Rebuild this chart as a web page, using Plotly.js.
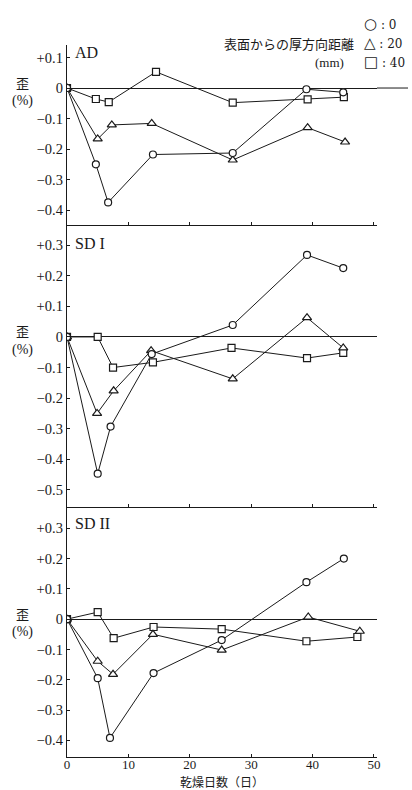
<!DOCTYPE html>
<html>
<head>
<meta charset="utf-8">
<script src="https://cdn.plot.ly/plotly-3.0.1.min.js"></script>
<style>html,body{margin:0;padding:0;background:#fff;}#chart{width:412px;height:790px;}</style>
</head>
<body>
<div id="chart"></div>
<script>
// ---- data (days, strain %) ----
const adX0 = [0, 4.7, 6.7, 14, 27, 39, 45];
const adY0 = [0, -0.25, -0.375, -0.218, -0.213, -0.004, -0.014];
const adX20 = [0, 5, 7.3, 13.8, 27, 39.2, 45.3];
const adY20 = [0, -0.167, -0.121, -0.116, -0.236, -0.13, -0.177];
const adX40 = [0, 4.7, 6.8, 14.5, 27, 39.2, 45.1];
const adY40 = [0, -0.036, -0.046, 0.053, -0.048, -0.037, -0.03];

const sd1X0 = [0, 5, 7.1, 13.8, 27, 39.1, 45];
const sd1Y0 = [0, -0.447, -0.293, -0.056, 0.039, 0.268, 0.225];
const sd1X20 = [0, 4.9, 7.6, 13.7, 27, 39.1, 45];
const sd1Y20 = [0, -0.25, -0.176, -0.045, -0.137, 0.063, -0.036];
const sd1X40 = [0, 5, 7.5, 14, 26.8, 39.1, 45];
const sd1Y40 = [0, 0, -0.1, -0.083, -0.036, -0.069, -0.052];

const sd2X0 = [0, 5, 7, 14.1, 25.2, 39, 45.1];
const sd2Y0 = [0, -0.195, -0.392, -0.178, -0.069, 0.122, 0.2];
const sd2X20 = [0, 5, 7.5, 14, 25.2, 39.3, 47.7];
const sd2Y20 = [0, -0.139, -0.182, -0.05, -0.102, 0.007, -0.04];
const sd2X40 = [0, 5, 7.6, 14.1, 25.2, 39, 47.3];
const sd2Y40 = [0, 0.023, -0.063, -0.026, -0.033, -0.073, -0.059];

const panelLabels = ['AD', 'SD I', 'SD II'];
const xTickVals = [0, 10, 20, 30, 40, 50];
const xTickText = ['0', '10', '20', '30', '40', '50'];
const y1TickVals = [0.1, 0, -0.1, -0.2, -0.3, -0.4];
const y1TickText = ['+0.1', '0', '\u22120.1', '\u22120.2', '\u22120.3', '\u22120.4'];
const y2TickVals = [0.3, 0.2, 0.1, 0, -0.1, -0.2, -0.3, -0.4, -0.5];
const y2TickText = ['+0.3', '+0.2', '+0.1', '0', '\u22120.1', '\u22120.2', '\u22120.3', '\u22120.4', '\u22120.5'];
const y3TickVals = [0.3, 0.2, 0.1, 0, -0.1, -0.2, -0.3, -0.4];
const y3TickText = ['+0.3', '+0.2', '+0.1', '0', '\u22120.1', '\u22120.2', '\u22120.3', '\u22120.4'];
const legendSymbols = ['\u25CB', '\u25B3', '\u25A1'];
const legendValues = [' : 0', ' : 20', ' : 40'];
const legendTitle = ['表面からの厚方向距離', '(mm)'];
const xTitle = '乾燥日数（日）';
const yTitle = ['歪', '(%)'];

// ---- styling ----
const LC = '#1a1a1a';
const serif = 'Liberation Serif, Times New Roman, serif';
const cjk = 'Noto Sans CJK JP, sans-serif';

function tr(x, y, sym, xa, ya, size) {
  return {
    x: x, y: y, xaxis: xa, yaxis: ya, type: 'scatter', mode: 'lines+markers',
    line: {color: LC, width: 1},
    marker: {symbol: sym, size: size, color: '#fff', line: {color: LC, width: 1.2}},
    showlegend: false, hoverinfo: 'skip'
  };
}

const data = [
  tr(adX40, adY40, 'square', 'x', 'y', 7),
  tr(adX20, adY20, 'triangle-up', 'x', 'y', 8),
  tr(adX0, adY0, 'circle', 'x', 'y', 7),
  tr(sd1X40, sd1Y40, 'square', 'x2', 'y2', 7),
  tr(sd1X20, sd1Y20, 'triangle-up', 'x2', 'y2', 8),
  tr(sd1X0, sd1Y0, 'circle', 'x2', 'y2', 7),
  tr(sd2X40, sd2Y40, 'square', 'x3', 'y3', 7),
  tr(sd2X20, sd2Y20, 'triangle-up', 'x3', 'y3', 8),
  tr(sd2X0, sd2Y0, 'circle', 'x3', 'y3', 7)
];

function xax(showLabels, anchor) {
  return {
    range: [0, 50.5], anchor: anchor, showgrid: false, zeroline: false,
    showline: true, linecolor: LC, linewidth: 1.2,
    ticks: 'inside', ticklen: 3, tickcolor: LC,
    tickvals: xTickVals, ticktext: xTickText, showticklabels: showLabels,
    ticklabelstandoff: -5,
    tickfont: {family: serif, size: 13, color: LC}
  };
}
function yax(range, dom, tv, tt, anchor) {
  return {
    range: range, domain: dom, anchor: anchor, showgrid: false,
    zeroline: true, zerolinecolor: LC, zerolinewidth: 1,
    showline: true, linecolor: LC, linewidth: 1.2,
    ticks: 'inside', ticklen: 3, tickcolor: LC,
    tickvals: tv, ticktext: tt,
    tickfont: {family: serif, size: 14.5, color: LC}
  };
}

const annotations = [];
const panels = [['y', 0.115], ['y2', 0.307], ['y3', 0.317]];
panels.forEach((p, i) => {
  annotations.push({xref: 'x' + (i === 0 ? '' : i + 1), yref: p[0], x: 1.0, y: p[1], text: panelLabels[i],
    showarrow: false, xanchor: 'left', yanchor: 'middle', font: {family: serif, size: 16, color: LC}});
  annotations.push({xref: 'paper', yref: p[0], x: -0.145, y: 0, yshift: 6, text: yTitle[0],
    showarrow: false, xanchor: 'center', yanchor: 'middle', font: {family: cjk, size: 13, color: LC}});
  annotations.push({xref: 'paper', yref: p[0], x: -0.145, y: 0, yshift: -13, text: yTitle[1],
    showarrow: false, xanchor: 'center', yanchor: 'middle', font: {family: serif, size: 14, color: LC}});
});
// legend block
const legY = [1.0295, 1.0028, 0.976];
legendSymbols.forEach((s, i) => {
  annotations.push({xref: 'paper', yref: 'paper', x: 0.953, y: legY[i], showarrow: false,
    text: '<span style="font-size:15px">' + s + '</span>' + legendValues[i],
    xanchor: 'left', yanchor: 'middle', font: {family: 'DejaVu Serif, serif', size: 12, color: LC}});
});
annotations.push({xref: 'paper', yref: 'paper', x: 0.932, y: 1.0028, text: legendTitle[0], showarrow: false,
  xanchor: 'right', yanchor: 'middle', font: {family: cjk, size: 13, color: LC}});
annotations.push({xref: 'paper', yref: 'paper', x: 0.90, y: 0.976, text: legendTitle[1], showarrow: false,
  xanchor: 'right', yanchor: 'middle', font: {family: serif, size: 13, color: LC}});
// x title
annotations.push({xref: 'paper', yref: 'paper', x: 0.5, y: 0, yshift: -24, text: xTitle, showarrow: false,
  xanchor: 'center', yanchor: 'middle', font: {family: cjk, size: 12, color: LC}});

const layout = {
  width: 412, height: 790,
  margin: {l: 67, r: 35, t: 45, b: 33},
  paper_bgcolor: '#fff', plot_bgcolor: '#fff',
  showlegend: false,
  xaxis: xax(false, 'y'),
  xaxis2: xax(false, 'y2'),
  xaxis3: xax(true, 'y3'),
  yaxis: yax([-0.449, 0.141], [0.7472, 1], y1TickVals, y1TickText, 'x'),
  yaxis2: yax([-0.556, 0.366], [0.3511, 0.7472], y2TickVals, y2TickText, 'x2'),
  yaxis3: yax([-0.455, 0.37], [0, 0.3511], y3TickVals, y3TickText, 'x3'),
  annotations: annotations,
  shapes: [
    {type: 'line', xref: 'paper', yref: 'y', x0: 1, x1: 1.1, y0: 0, y1: 0, line: {color: LC, width: 1}}
  ]
};

Plotly.newPlot('chart', data, layout, {staticPlot: true, displayModeBar: false});
</script>
</body>
</html>
